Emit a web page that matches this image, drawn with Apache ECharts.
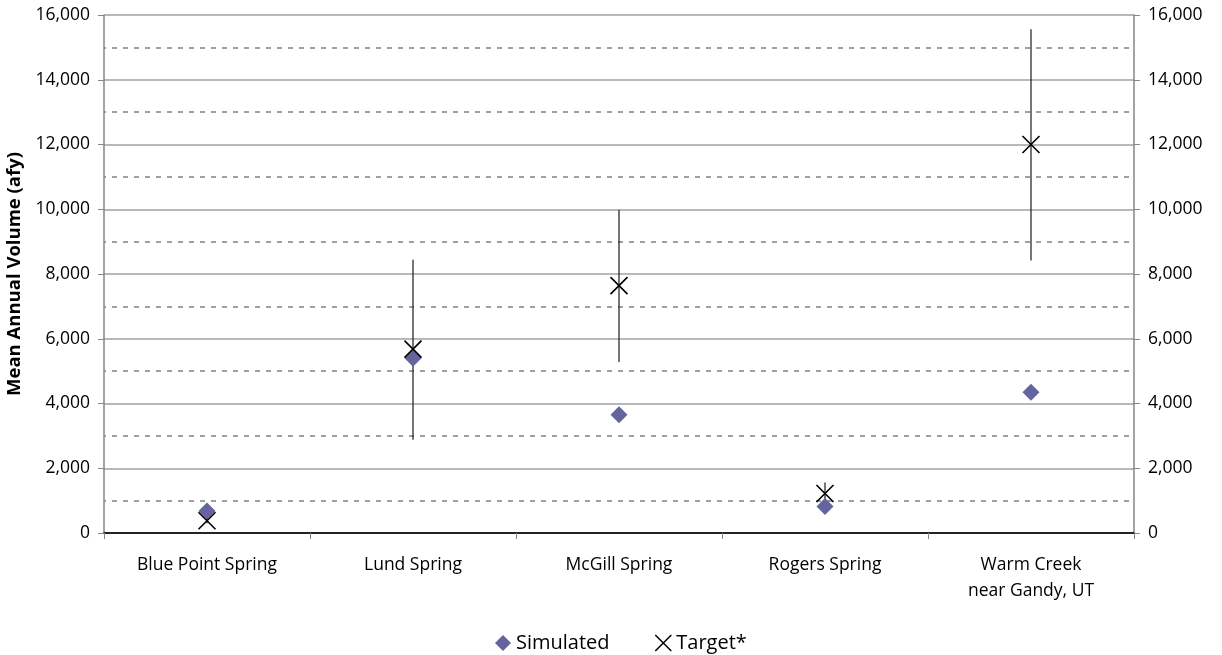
<!DOCTYPE html>
<html>
<head>
<meta charset="utf-8">
<script src="https://cdn.jsdelivr.net/npm/echarts@6/dist/echarts.min.js"></script>
<style>
  html, body { margin: 0; padding: 0; background: #fff; }
  #chart { width: 1222px; height: 655px; }
</style>
</head>
<body>
<div id="chart"></div>
<script>
// Spring discharge: simulated vs. target mean annual volume (afy)
const categories = ['Blue Point Spring', 'Lund Spring', 'McGill Spring', 'Rogers Spring', 'Warm Creek\nnear Gandy, UT'];
const simulated = [680, 5400, 3650, 820, 4350];
const target = [380, 5680, 7640, 1220, 12000];
const targetLow = [300, 2880, 5280, 870, 8420];
const targetHigh = [460, 8440, 9980, 1560, 15560];

const FONT = '"Open Sans", "Liberation Sans", sans-serif';
const crossPath = 'path://M0,0L10,10M10,0L0,10';

const chart = echarts.init(document.getElementById('chart'));

const yCommon = {
  type: 'value', min: 0, max: 16000, interval: 2000,
  axisLine: { show: true, lineStyle: { color: '#868686', width: 1.5 } },
  axisTick: { show: true, length: 6, lineStyle: { color: '#868686' } },
  axisLabel: {
    color: '#000', fontFamily: FONT, fontSize: 17.5, margin: 14,
    formatter: v => v.toLocaleString('en-US')
  }
};

chart.setOption({
  animation: false,
  textStyle: { fontFamily: FONT },
  grid: { left: 104, right: 88, top: 15, bottom: 122, outerBoundsMode: 'none', containLabel: false },
  legend: {
    bottom: -3, left: 490, itemGap: 45, itemWidth: 16, itemHeight: 16,
    textStyle: { color: '#000', fontSize: 20, fontFamily: FONT },
    data: [
      { name: 'Simulated', icon: 'diamond', itemStyle: { opacity: 1 } },
      { name: 'Target*', icon: crossPath,
        itemStyle: { color: 'transparent', borderColor: '#000', borderWidth: 1.5 } }
    ]
  },
  xAxis: [{
    type: 'category', data: categories, position: 'bottom', boundaryGap: true,
    axisLine: { lineStyle: { color: '#868686', width: 1.5 } },
    axisTick: { show: true, length: 6, lineStyle: { color: '#868686' } },
    axisLabel: { color: '#000', fontFamily: FONT, fontSize: 17.5, margin: 19, lineHeight: 26 }
  }, {
    type: 'category', data: categories, position: 'top',
    axisLine: { lineStyle: { color: '#000', width: 1.5 } },
    axisTick: { show: false }, axisLabel: { show: false }
  }],
  yAxis: [Object.assign({}, yCommon, {
    position: 'left',
    name: 'Mean Annual Volume (afy)', nameLocation: 'middle', nameGap: 72,
    nameTextStyle: { color: '#000', fontFamily: FONT, fontSize: 18.5, fontWeight: 'bold' },
    splitLine: { show: true, lineStyle: { color: '#a0a0a0', width: 1.5 } },
    minorTick: { show: false, splitNumber: 2 },
    minorSplitLine: { show: true, lineStyle: { color: '#808080', width: 1.5, type: [5, 6], dashOffset: -8 } }
  }), Object.assign({}, yCommon, {
    position: 'right',
    splitLine: { show: false }
  })],
  series: [{
    name: 'Target range', type: 'custom', xAxisIndex: 0, yAxisIndex: 0, z: 3,
    data: categories.map((c, i) => [i, targetLow[i], targetHigh[i]]),
    renderItem: (params, api) => {
      const p1 = api.coord([api.value(0), api.value(1)]);
      const p2 = api.coord([api.value(0), api.value(2)]);
      return {
        type: 'line',
        shape: { x1: p1[0], y1: p1[1], x2: p2[0], y2: p2[1] },
        style: { stroke: '#1a1a1a', lineWidth: 1.2 }
      };
    }
  }, {
    name: 'Simulated', type: 'scatter', z: 4,
    symbol: 'diamond', symbolSize: 17,
    itemStyle: { color: '#64649e', opacity: 1 },
    data: simulated
  }, {
    name: 'Target*', type: 'scatter', z: 5,
    symbol: crossPath, symbolSize: 17,
    itemStyle: { color: 'transparent', borderColor: '#000', borderWidth: 1.6, opacity: 1 },
    data: target
  }]
});
</script>
</body>
</html>
